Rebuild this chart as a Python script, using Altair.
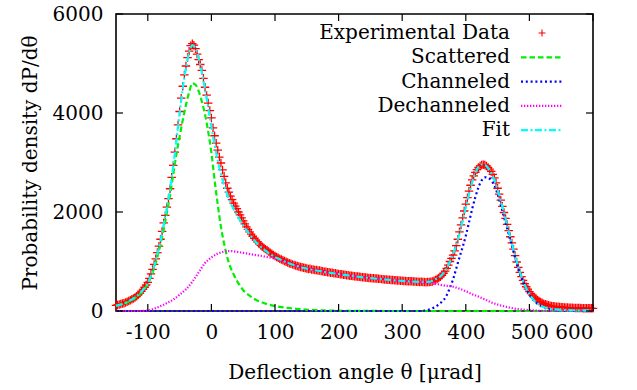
import altair as alt
import pandas as pd

# ---------------- data ----------------
# Experimental data, sampled every 2.5 urad from -150 to 600
DATA_START = -150.0
DATA_STEP = 2.5
DATA_Y = [
    115, 122, 130, 141, 150, 158, 170, 186, 200, 217, 235, 253, 275, 300, 330, 360, 395, 435, 480, 525,
    580, 660, 750, 840, 940, 1055, 1180, 1310, 1450, 1610, 1780, 1930, 2100, 2270, 2470, 2700, 2940, 3210, 3480, 3760,
    4030, 4300, 4540, 4770, 4950, 5120, 5250, 5360, 5400, 5370, 5300, 5190, 5080, 4980, 4860, 4700, 4520, 4360, 4200, 4050,
    3900, 3700, 3540, 3390, 3250, 3110, 2990, 2850, 2720, 2590, 2480, 2400, 2320, 2250, 2180, 2120, 2070, 2000, 1940, 1880,
    1820, 1760, 1700, 1650, 1600, 1555, 1510, 1470, 1430, 1395, 1360, 1330, 1300, 1275, 1250, 1225, 1200, 1178, 1155, 1132,
    1110, 1092, 1075, 1057, 1040, 1025, 1010, 995, 980, 967, 955, 942, 930, 920, 910, 900, 890, 882, 875, 867,
    860, 850, 852, 838, 836, 828, 826, 818, 816, 806, 804, 794, 792, 783, 781, 773, 771, 763, 762, 753,
    750, 744, 741, 734, 731, 724, 721, 714, 711, 705, 703, 697, 696, 690, 689, 683, 681, 675, 674, 669,
    667, 663, 662, 657, 656, 650, 649, 644, 643, 638, 637, 632, 631, 626, 626, 621, 621, 616, 616, 611,
    610, 607, 607, 603, 603, 599, 599, 595, 595, 591, 592, 588, 589, 585, 586, 583, 585, 585, 591, 597,
    610, 626, 645, 665, 690, 722, 760, 805, 860, 925, 1000, 1065, 1130, 1215, 1320, 1450, 1600, 1740, 1880, 2020,
    2160, 2290, 2420, 2540, 2650, 2730, 2800, 2855, 2900, 2930, 2950, 2955, 2950, 2930, 2900, 2865, 2820, 2760, 2690, 2590,
    2480, 2360, 2240, 2115, 1990, 1870, 1750, 1625, 1500, 1375, 1250, 1120, 990, 880, 780, 695, 620, 550, 490, 440,
    390, 352, 320, 283, 250, 223, 200, 182, 165, 149, 135, 124, 115, 107, 100, 94, 90, 87, 85, 81,
    78, 75, 73, 71, 70, 68, 66, 64, 63, 62, 61, 60, 59, 58, 57, 56, 56, 55, 55, 54,
    54,
]

# Fit, every 5 urad from -150 to 600
FIT_START = -150
FIT_STEP = 5
FIT_Y = [
    105, 120, 140, 165, 195, 235, 275, 325, 390, 465,
    560, 720, 910, 1150, 1420, 1750, 2090, 2470, 2930, 3450,
    3990, 4500, 4910, 5220, 5370, 5310, 5100, 4820, 4480, 4100,
    3720, 3360, 3040, 2770, 2540, 2350, 2190, 2060, 1940, 1830,
    1730, 1640, 1550, 1470, 1390, 1330, 1270, 1220, 1170, 1130,
    1090, 1060, 1030, 1000, 975, 950, 928, 908, 888, 872,
    856, 843, 830, 819, 808, 797, 786, 776, 766, 756,
    747, 737, 728, 719, 710, 702, 694, 686, 679, 672,
    665, 658, 652, 646, 640, 634, 628, 623, 618, 613,
    608, 604, 600, 596, 592, 589, 587, 586, 588, 597,
    625, 660, 700, 765, 860, 995, 1150, 1340, 1560, 1820,
    2090, 2360, 2600, 2790, 2910, 2960, 2950, 2890, 2790, 2640,
    2450, 2230, 1990, 1740, 1490, 1240, 1000, 790, 610, 460,
    340, 250, 180, 130, 92, 65, 48, 38, 31, 26,
    22, 20, 18, 16, 15, 14, 13, 13, 12, 12,
    12,
]

# Scattered component, every 5 urad from -150 to 300, then zero to 600
SCAT_X = list(range(-150, 305, 5)) + [600]
SCAT_Y = [
    110, 122, 140, 160, 188, 222, 262, 310, 372, 450,
    550, 690, 870, 1090, 1350, 1650, 1980, 2340, 2760, 3170,
    3520, 3860, 4160, 4420, 4600, 4570, 4440, 4230, 3970, 3620,
    3200, 2650, 2150, 1700, 1360, 1080, 880, 740, 610, 510,
    420, 360, 310, 265, 225, 195, 170, 150, 130, 115,
    100, 90, 80, 70, 62, 55, 48, 42, 36, 31,
    27, 23, 20, 17, 14, 12, 10, 9, 8, 7,
    6, 5, 4, 4, 3, 3, 2, 2, 2, 1,
    1, 1, 1, 1, 0, 0, 0, 0, 0, 0,
    0,
    0,
]

# Channeled component (zero before 330)
CHAN_X = [-150] + list(range(330, 605, 5))
CHAN_Y = [
    0,
    0, 8, 20, 40, 70, 110, 160, 220, 320, 470,
    640, 860, 1080, 1290, 1520, 1790, 2060, 2300, 2500, 2640,
    2700, 2690, 2640, 2540, 2360, 2140, 1900, 1670, 1430, 1200,
    960, 760, 590, 450, 330, 240, 175, 125, 88, 62,
    45, 33, 25, 20, 16, 13, 11, 9, 8, 7,
    6, 5, 5, 4, 4,
]

# Dechanneled component, every 10 urad from -110 to 540
DECH_X = [-150] + list(range(-110, 550, 10)) + [600]
DECH_Y = [
    0,
    0, 10, 45, 100, 160, 230, 330, 440, 590, 780,
    970, 1080, 1160, 1200, 1210, 1195, 1175, 1150, 1130, 1110,
    1085, 1060, 1025, 978, 925, 885, 855, 830, 810, 787,
    767, 748, 728, 708, 693, 678, 665, 652, 640, 628,
    618, 607, 598, 590, 582, 572, 555, 530, 508, 490,
    450, 400, 340, 290, 235, 175, 130, 95, 65, 42,
    27, 16, 9, 4, 2, 0,
    0,
]

X_TICKS = [-100, 0, 100, 200, 300, 400, 500, 600]
Y_TICKS = [0, 2000, 4000, 6000]

LEGEND_LABELS = ["Experimental Data", "Scattered", "Channeled", "Dechanneled", "Fit"]

# ---------------- styles ----------------
FONT = "DejaVu Serif"
FS = 20
W, H = 477, 297

COLORS = {"Experimental Data": "#ff0000", "Scattered": "#00ee00", "Channeled": "#0000ff",
          "Dechanneled": "#ff00ff", "Fit": "#00ffff"}
DASHES = {"Scattered": [5.5, 3], "Channeled": [2, 2.8], "Dechanneled": [1.3, 1.7], "Fit": [7, 2.5, 2, 2.5]}
CROSS = "M-1,0L1,0M0,-1L0,1"

x_scale = alt.Scale(domain=[-150, 600], nice=False, zero=False)
y_scale = alt.Scale(domain=[0, 6000], nice=False)

x_axis = alt.Axis(values=X_TICKS, ticks=False, domain=False, grid=False,
                  labelFont=FONT, labelFontSize=FS, labelColor="black", labelPadding=11,
                  labelExpr="'' + datum.value",
                  title="Deflection angle θ [μrad]", titleFont=FONT, titleFontSize=FS,
                  titleFontWeight="normal", titleColor="black", titleY=61, titleBaseline="middle")
y_axis = alt.Axis(values=Y_TICKS, ticks=False, domain=False, grid=False,
                  labelFont=FONT, labelFontSize=FS, labelColor="black", labelPadding=13,
                  labelExpr="'' + datum.value",
                  title="Probability density dP/dθ", titleFont=FONT, titleFontSize=FS,
                  titleFontWeight="normal", titleColor="black", titleX=-86, titleY=H / 2,
                  titleAngle=270, titleBaseline="middle", titleAlign="center")

data_df = pd.DataFrame({"x": [DATA_START + DATA_STEP * i for i in range(len(DATA_Y))], "y": DATA_Y})

points = alt.Chart(data_df).mark_point(
    shape=CROSS, size=72, filled=False, stroke=COLORS["Experimental Data"], strokeWidth=1.3, opacity=1
).encode(
    x=alt.X("x:Q", scale=x_scale, axis=x_axis),
    y=alt.Y("y:Q", scale=y_scale, axis=y_axis),
)

series = [
    ("Scattered", SCAT_X, SCAT_Y),
    ("Channeled", CHAN_X, CHAN_Y),
    ("Dechanneled", DECH_X, DECH_Y),
    ("Fit", [FIT_START + FIT_STEP * i for i in range(len(FIT_Y))], FIT_Y),
]

layers = [points]
for name, xs, ys in series:
    df = pd.DataFrame({"x": xs, "y": ys})
    layers.append(
        alt.Chart(df).mark_line(
            color=COLORS[name], strokeDash=DASHES[name], strokeWidth=2.2,
            interpolate="monotone", strokeCap="butt"
        ).encode(x=alt.X("x:Q", scale=x_scale), y=alt.Y("y:Q", scale=y_scale))
    )

# inward tick marks on all four sides
xt = pd.DataFrame({"t": X_TICKS})
yt = pd.DataFrame({"t": Y_TICKS})
TL = 7
tick_style = dict(color="black", strokeWidth=1.2)
layers.append(alt.Chart(xt).mark_rule(**tick_style).encode(
    x=alt.X("t:Q", scale=x_scale), y=alt.value(H), y2=alt.value(H - TL)))
layers.append(alt.Chart(xt).mark_rule(**tick_style).encode(
    x=alt.X("t:Q", scale=x_scale), y=alt.value(0), y2=alt.value(TL)))
layers.append(alt.Chart(yt).mark_rule(**tick_style).encode(
    y=alt.Y("t:Q", scale=y_scale), x=alt.value(0), x2=alt.value(TL)))
layers.append(alt.Chart(yt).mark_rule(**tick_style).encode(
    y=alt.Y("t:Q", scale=y_scale), x=alt.value(W), x2=alt.value(W - TL)))

# legend (top right, labels right-aligned, sample to the right)
LEG_TEXT_X = 394
LEG_SYM_X1, LEG_SYM_X2 = 405, 447
LEG_Y0, LEG_DY = 19, 24.3
for i, name in enumerate(LEGEND_LABELS):
    yy = LEG_Y0 + LEG_DY * i
    ldf = pd.DataFrame({"label": [name]})
    layers.append(alt.Chart(ldf).mark_text(
        align="right", baseline="middle", font=FONT, fontSize=FS, color="black"
    ).encode(text="label:N", x=alt.value(LEG_TEXT_X), y=alt.value(yy)))
    if name == "Experimental Data":
        layers.append(alt.Chart(ldf).mark_point(
            shape=CROSS, size=49, filled=False, stroke=COLORS[name], strokeWidth=1.1, opacity=1
        ).encode(x=alt.value((LEG_SYM_X1 + LEG_SYM_X2) / 2), y=alt.value(yy)))
    else:
        layers.append(alt.Chart(ldf).mark_rule(
            color=COLORS[name], strokeDash=DASHES[name], strokeWidth=2.2, strokeCap="butt"
        ).encode(x=alt.value(LEG_SYM_X1), x2=alt.value(LEG_SYM_X2), y=alt.value(yy)))

chart = alt.layer(*layers).properties(
    width=W, height=H,
    padding={"left": 116, "top": 14, "right": 44, "bottom": 79},
    autosize=alt.AutoSizeParams(type="none"),
    background="white",
).configure_view(stroke="black", strokeWidth=1.6)

chart.save("out.html", embed_options={"renderer": "svg", "actions": False})
